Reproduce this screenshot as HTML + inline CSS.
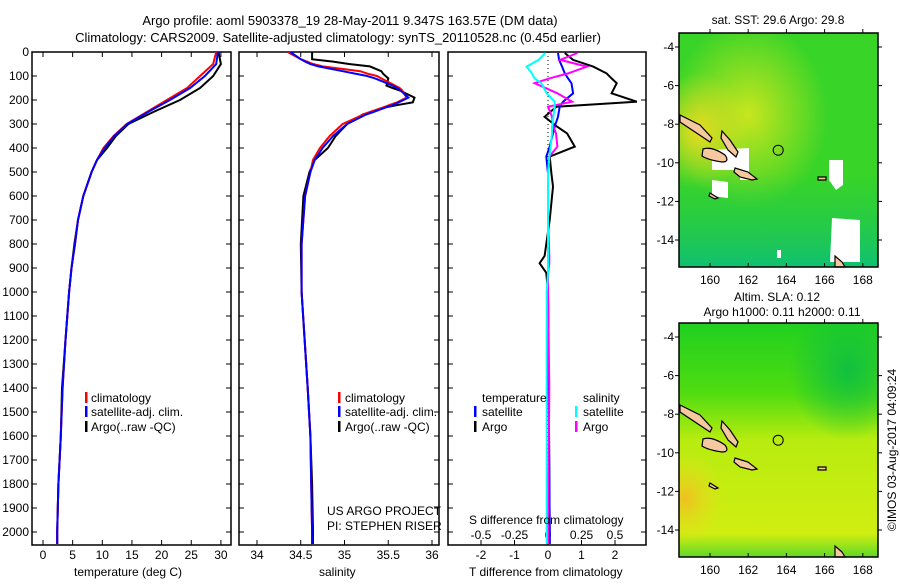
<!DOCTYPE html>
<html><head><meta charset="utf-8"><style>
body{margin:0;background:#fff;width:900px;height:580px;overflow:hidden;font-family:"Liberation Sans",sans-serif;}
svg text{font-family:"Liberation Sans",sans-serif;fill:#000;}
</style></head><body>
<svg id="chart" width="900" height="580" xmlns="http://www.w3.org/2000/svg">
<defs>
<clipPath id="c1"><rect x="32" y="52" width="199" height="493"/></clipPath>
<clipPath id="c2"><rect x="239" y="52" width="200" height="493"/></clipPath>
<clipPath id="c3"><rect x="448" y="52" width="198" height="493"/></clipPath>
<clipPath id="m1"><rect x="679" y="33" width="199" height="234"/></clipPath>
<clipPath id="m2"><rect x="679" y="323" width="199" height="234"/></clipPath>
<radialGradient id="g1" cx="0.35" cy="0.35" r="0.4"><stop offset="0" stop-color="#c8e61e"/><stop offset="1" stop-color="#c8e61e" stop-opacity="0"/></radialGradient>
<radialGradient id="g2" cx="0.1" cy="0.42" r="0.25"><stop offset="0" stop-color="#e8dc20"/><stop offset="1" stop-color="#e8dc20" stop-opacity="0"/></radialGradient>
<linearGradient id="g3" x1="0" y1="0" x2="0" y2="1"><stop offset="0.6" stop-color="#1ec850" stop-opacity="0"/><stop offset="1" stop-color="#10c070"/></linearGradient>
<linearGradient id="s1" x1="0" y1="0" x2="0" y2="1"><stop offset="0" stop-color="#20d020"/><stop offset="0.3" stop-color="#50dc10"/><stop offset="0.5" stop-color="#b8ec10"/><stop offset="0.9" stop-color="#d0ee10"/><stop offset="1" stop-color="#60d828"/></linearGradient>
<radialGradient id="s2" cx="0.03" cy="0.75" r="0.2"><stop offset="0" stop-color="#f0c020"/><stop offset="1" stop-color="#e8e020" stop-opacity="0"/></radialGradient>
<radialGradient id="s3" cx="0.85" cy="0.2" r="0.3"><stop offset="0" stop-color="#10c040"/><stop offset="1" stop-color="#10c040" stop-opacity="0"/></radialGradient>
</defs>
<text x="350" y="25" font-size="13" text-anchor="middle">Argo profile: aoml 5903378_19 28-May-2011 9.347S 163.57E (DM data)</text>
<text x="338" y="42" font-size="13" text-anchor="middle">Climatology: CARS2009. Satellite-adjusted climatology: synTS_20110528.nc (0.45d earlier)</text>
<g id="plots"></g>

<text x="778" y="24" font-size="12" text-anchor="middle">sat. SST: 29.6  Argo: 29.8</text>
<text x="777" y="301" font-size="12" text-anchor="middle">Altim. SLA: 0.12</text>
<text x="782" y="316" font-size="12" text-anchor="middle">Argo h1000: 0.11 h2000: 0.11</text>
<g clip-path="url(#m1)">
<rect x="679" y="33" width="199" height="234" fill="#38d428"/>
<rect x="679" y="33" width="199" height="234" fill="url(#g1)"/>
<rect x="679" y="33" width="199" height="234" fill="url(#g2)"/>
<rect x="679" y="33" width="199" height="234" fill="url(#g3)"/>
<path d="M712 150 L749 148 L749 180 L740 180 L740 170 L712 170 Z M712 180 L728 182 L728 198 L712 196Z M829 160 L843 160 L843 185 L836 190 L829 180Z M832 218 L860 220 L860 262 L830 262Z M777 250 L781 250 L781 258 L777 258Z" fill="#fff"/>
</g>
<g clip-path="url(#m2)">
<rect x="679" y="323" width="199" height="234" fill="url(#s1)"/>
<rect x="679" y="323" width="199" height="234" fill="url(#s2)"/>
<rect x="679" y="323" width="199" height="234" fill="url(#s3)"/>
</g>
<g id="islands"></g>
<rect x="679" y="33" width="199" height="234" fill="none" stroke="#000" stroke-width="1.5"/>
<rect x="679" y="323" width="199" height="234" fill="none" stroke="#000" stroke-width="1.5"/>
<g id="mapaxes"></g>
<text transform="translate(896,450) rotate(-90)" font-size="12" text-anchor="middle">©IMOS 03-Aug-2017 04:09:24</text>
</svg>
<script>
const NS='http://www.w3.org/2000/svg';
// ---- data ----
const depthT=[0,50,100,150,200,250,300,350,400,450,500,600,700,800,900,1000,1200,1400,1600,1800,2000,2050];
const climT=[29.2,28.7,26.5,24.3,20.9,17.5,14.1,11.9,10.2,9.1,8.2,6.8,5.9,5.4,4.8,4.4,3.8,3.3,3.0,2.6,2.4,2.4];
const satT=[29.5,29.2,27.3,24.8,21.4,17.7,14.2,12.0,10.4,9.1,8.2,6.8,5.9,5.4,4.8,4.4,3.8,3.3,3.0,2.6,2.4,2.4];
const argoT=[29.6,30.0,28.7,26.5,23.1,18.6,14.4,12.3,10.8,9.1,8.2,6.8,5.9,5.3,4.8,4.4,3.8,3.2,3.0,2.6,2.4,2.4];
const depthS=[0,30,40,50,60,80,90,100,110,140,150,160,190,210,220,230,250,260,300,350,400,450,500,600,800,1000,1400,1600,1800,2000,2050];
const climS=[34.35,34.5,34.57,34.64,34.75,35.18,35.26,35.37,35.42,35.58,35.63,35.66,35.71,35.6,35.52,35.45,35.29,35.22,34.98,34.83,34.72,34.64,34.61,34.55,34.51,34.51,34.58,34.61,34.62,34.63,34.63];
const satS=[34.38,34.5,34.55,34.61,34.7,34.98,35.12,35.26,35.35,35.55,35.6,35.64,35.73,35.62,35.56,35.48,35.33,35.25,35.03,34.87,34.75,34.66,34.61,34.55,34.51,34.51,34.58,34.61,34.62,34.63,34.63];
const argoS=[34.63,34.63,34.87,35.05,35.29,35.42,35.44,35.47,35.5,35.48,35.55,35.63,35.8,35.78,35.62,35.48,35.3,35.21,35.03,34.9,34.81,34.66,34.6,34.53,34.5,34.51,34.58,34.61,34.63,34.64,34.64];
const depthD=[4,33,61,89,110,130,172,207,228,270,311,339,394,436,506,561,700,850,880,920,1000,1400,2000,2050];
const argoDT=[0.5,0.75,1.35,1.75,1.9,2.05,1.9,2.65,0.25,-0.1,0.27,0.57,0.8,0.05,0.1,0.15,0.05,-0.1,-0.25,-0.05,0.0,0.02,0.05,0.05];
const satDT=[0.3,0.33,0.42,0.5,0.6,0.7,0.75,0.45,0.35,0.3,0.2,0.15,0.05,-0.05,0.0,0.0,0.0,0.0,0.0,0.0,0.0,0.02,0.05,0.05];
const argoDS=[0.22,0.09,0.29,0.15,0.01,-0.1,0.07,0.18,0.0,0.03,0.04,0.06,0.07,0.01,0.0,0.0,0.0,0.01,0.01,0.0,0.0,0.01,0.0,0.0];
const satDS=[-0.02,-0.07,-0.16,-0.12,-0.1,-0.05,-0.01,0.05,0.05,0.04,0.03,0.03,0.02,0.01,0.0,0.0,0.0,0.0,0.0,0.0,-0.01,-0.01,-0.01,-0.01];
const depthTicks=[0,100,200,300,400,500,600,700,800,900,1000,1100,1200,1300,1400,1500,1600,1700,1800,1900,2000];
const tTicks=[0,5,10,15,20,25,30];
const sTicks=[34,34.5,35,35.5,36];
const dtTicks=[-2,-1,0,1,2];
const dsTicks=[-0.5,-0.25,0,0.25,0.5];
const dsTickLabels=['-0.5','-0.25','0','0.25','0.5'];
// ---- scales ----
const yD=d=>52+0.24*d;
const xT=t=>43+5.93*t;
const xS=s=>257+87.5*(s-34);
const xDT=v=>548+33.5*v;
const xDS=v=>548+134*v;
const g=document.getElementById('plots');
function mk(tag,attrs,parent){const e=document.createElementNS(NS,tag);for(const k in attrs)e.setAttribute(k,attrs[k]);(parent||g).appendChild(e);return e;}
function line(xs,ds,xf,color,clip,name){
  const pts=xs.map((v,i)=>xf(v).toFixed(1)+','+yD(ds[i]).toFixed(1)).join(' ');
  const p=mk('polyline',{points:pts,fill:'none',stroke:color,'stroke-width':2,'clip-path':'url(#'+clip+')'});
  
  
}
function frame(x0,x1,name){
  const r=mk('rect',{x:x0,y:52,width:x1-x0,height:493,fill:'none',stroke:'#000','stroke-width':1.5});
  
  
  depthTicks.forEach(d=>{mk('line',{x1:x0,x2:x0+5,y1:yD(d),y2:yD(d),stroke:'#000'});mk('line',{x1:x1,x2:x1-5,y1:yD(d),y2:yD(d),stroke:'#000'});});
}
function xticks(ticks,labels,xf,ylab,top){
  ticks.forEach((t,i)=>{
    const x=xf(t);
    mk('line',{x1:x,x2:x,y1:545,y2:540,stroke:'#000'});
    if(top) mk('line',{x1:x,x2:x,y1:52,y2:57,stroke:'#000'});
    const tx=mk('text',{x:x,y:ylab,'font-size':12,'text-anchor':'middle'});tx.textContent=labels[i];
    
    
  });
}
function txt(x,y,s,name,anchor){const t=mk('text',{x:x,y:y,'font-size':12,'text-anchor':anchor||'start'});t.textContent=s;}
function bar(x,y,c){mk('rect',{x:x,y:y-10,width:2.5,height:11,fill:c});}
// panel 1
frame(32,231,'temperature-panel');
depthTicks.forEach(d=>{const t=mk('text',{x:29,y:yD(d)+4,'font-size':12,'text-anchor':'end'});t.textContent=d;
  
  });
xticks(tTicks,tTicks.map(String),xT,559,true);
line(argoT,depthT,xT,'#000','c1','argo-temperature-line');
line(climT,depthT,xT,'#f00','c1','climatology-temperature-line');
line(satT,depthT,xT,'#00f','c1','satellite-temperature-line');
txt(74,576,'temperature (deg C)','temperature-axis-title');
bar(85,402,'#f00');txt(91,402,'climatology','legend-climatology');
bar(85,416,'#00f');txt(91,416,'satellite-adj. clim.','legend-satellite');
bar(85,431,'#000');txt(91,431,'Argo(..raw -QC)','legend-argo');
// panel 2
frame(239,439,'salinity-panel');
xticks(sTicks,['34','34.5','35','35.5','36'],xS,559,true);
line(argoS,depthS,xS,'#000','c2','argo-salinity-line');
line(climS,depthS,xS,'#f00','c2','climatology-salinity-line');
line(satS,depthS,xS,'#00f','c2','satellite-salinity-line');
txt(319,576,'salinity','salinity-axis-title');
bar(338,402,'#f00');txt(345,402,'climatology','legend-climatology-2');
bar(338,416,'#00f');txt(345,416,'satellite-adj. clim.','legend-satellite-2');
bar(338,431,'#000');txt(345,431,'Argo(..raw -QC)','legend-argo-2');
txt(327,515,'US ARGO PROJECT','project-label');
txt(327,530,'PI: STEPHEN RISER','pi-label');
// panel 3
frame(448,646,'difference-panel');
xticks(dtTicks,dtTicks.map(String),xDT,559,false);
dsTicks.forEach((t,i)=>{const tx=mk('text',{x:xDS(t),y:539,'font-size':12,'text-anchor':'middle'});tx.textContent=dsTickLabels[i];
  
  });
mk('line',{x1:548,x2:548,y1:52,y2:545,stroke:'#000','stroke-dasharray':'1,3'});
line(argoDT,depthD,xDT,'#000','c3','argo-t-diff-line');
line(satDT,depthD,xDT,'#00f','c3','satellite-t-diff-line');
line(argoDS,depthD,xDS,'#f0f','c3','argo-s-diff-line');
line(satDS,depthD,xDS,'#0ff','c3','satellite-s-diff-line');
txt(469,576,'T difference from climatology','t-diff-axis-title');
txt(469,524,'S difference from climatology','s-diff-axis-title');
txt(482,402,'temperature','legend-temperature-header');
txt(583,402,'salinity','legend-salinity-header');
bar(474,416,'#00f');txt(482,416,'satellite','legend-t-satellite');
bar(474,431,'#000');txt(482,431,'Argo','legend-t-argo');
bar(575,416,'#0ff');txt(583,416,'satellite','legend-s-satellite');
bar(575,431,'#f0f');txt(583,431,'Argo','legend-s-argo');
// ---- maps ----
const lonTicks=[160,162,164,166,168];
const latTicks=[-4,-6,-8,-10,-12,-14];
const mx=lon=>710+19.1*(lon-160);
const my1=lat=>47+19.3*(-4-lat);
const ma=document.getElementById('mapaxes');
[[33,267,my1],[323,557,l=>my1(l)+290]].forEach(([t,b,yf],mi)=>{
  lonTicks.forEach(l=>{mk('line',{x1:mx(l),x2:mx(l),y1:t,y2:t-4,stroke:'#000'},ma);mk('line',{x1:mx(l),x2:mx(l),y1:b,y2:b-4,stroke:'#000'},ma);
    const tx=mk('text',{x:mx(l),y:b+17,'font-size':12,'text-anchor':'middle'},ma);tx.textContent=l;
    
    });
  latTicks.forEach(l=>{mk('line',{x1:679,x2:675,y1:yf(l),y2:yf(l),stroke:'#000'},ma);mk('line',{x1:878,x2:882,y1:yf(l),y2:yf(l),stroke:'#000'},ma);
    const tx=mk('text',{x:674,y:yf(l)+4,'font-size':12,'text-anchor':'end'},ma);tx.textContent=l;
    
    });
  const c=mk('circle',{cx:mx(163.57),cy:yf(-9.347),r:5,fill:'none',stroke:'#000'},ma);
  
  
});
const isl=document.getElementById('islands');
[0,290].forEach(dy=>{
  const gg=mk('g',{transform:'translate(0,'+dy+')',fill:'#f5c8a0',stroke:'#000','stroke-width':1.2},isl);
  mk('path',{d:'M680 115 L700 125 L712 138 L710 142 L695 132 L680 122 Z'},gg);
  mk('path',{d:'M703 149 Q712 146 725 155 Q730 162 722 162 Q708 160 702 156 Z'},gg);
  mk('path',{d:'M722 131 L730 140 L738 152 L736 157 L728 150 L721 138 Z'},gg);
  mk('path',{d:'M735 168 L748 172 L757 179 L752 180 L740 177 L734 172 Z'},gg);
  mk('path',{d:'M710 193 L718 198 L715 199 L709 196 Z'},gg);
  mk('path',{d:'M818 177 L826 177 L826 180 L818 180 Z'},gg);
  mk('path',{d:'M835 256 L842 262 L845 267 L835 267 Z'},gg);
});
</script>
</body></html>
